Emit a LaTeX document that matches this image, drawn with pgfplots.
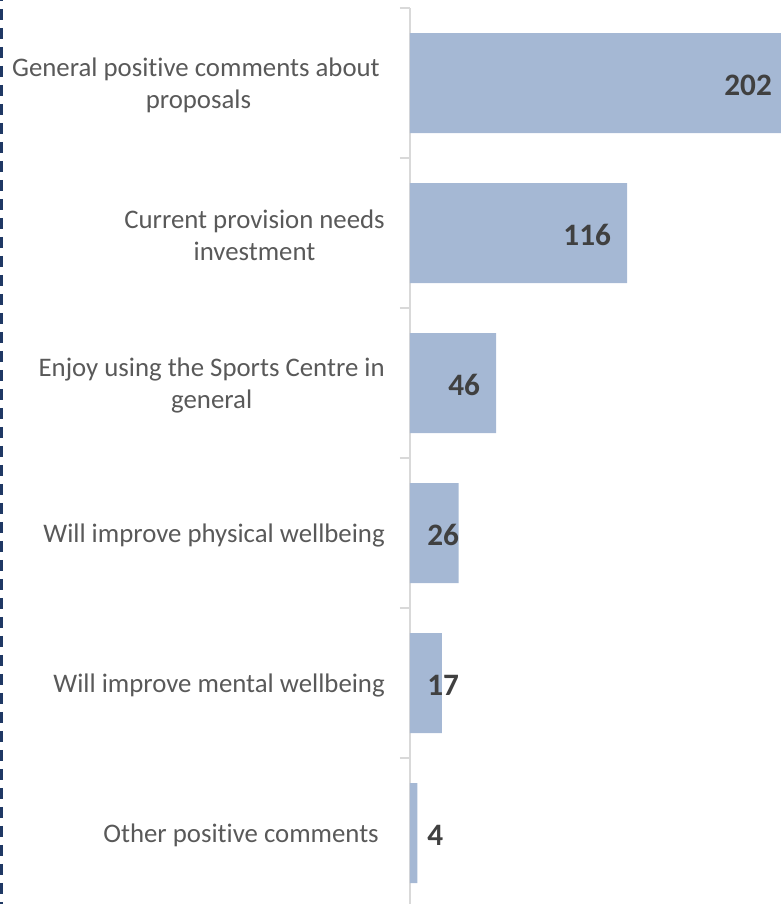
\documentclass[border=0pt]{standalone}
\usepackage{pgfplots}
\pgfplotsset{compat=1.18}
\usepackage{fontspec}
\setmainfont{Carlito}[Ligatures={NoCommon}]
\definecolor{barc}{HTML}{A5B8D4}
\definecolor{lab}{HTML}{595959}
\definecolor{dlab}{HTML}{404040}
\definecolor{axc}{HTML}{D9D9D9}
\definecolor{navy}{HTML}{1F3864}
\begin{document}
\begin{tikzpicture}
\useasboundingbox (0pt,0pt) rectangle (585.75pt,678pt);
\clip (0pt,0pt) rectangle (585.75pt,678pt);
\draw[navy, line width=2.25pt, dash pattern=on 8.25pt off 6pt] (1.125pt,685.5pt) -- (1.125pt,-2pt);
\begin{axis}[
  at={(307.5pt,672pt)}, anchor=north west,
  scale only axis, width=283.5pt, height=675pt,
  xmin=0, xmax=202, ymin=-0.5, ymax=5.5, y dir=reverse,
  clip=false,
  axis x line=none,
  axis y line*=left,
  y axis line style={axc, line width=1.5pt, -},
  ytick={0,1,2,3,4,5},
  yticklabels={{General positive comments about\hspace*{3.75pt}\\proposals},{Current provision needs\\investment},{Enjoy using the Sports Centre in\\general},{Will improve physical wellbeing},{Will improve mental wellbeing},{Other positive comments\hspace*{4.5pt}}},
  major tick length=0pt,
  yticklabel style={align=center, text=lab, font=\fontsize{20.1}{24}\selectfont, inner sep=0pt, xshift=-18.75pt, yshift=-1.5pt},
  extra y ticks={-0.5,0.5,1.5,2.5,3.5,4.5,5.5},
  extra y tick labels={},
  extra tick style={major tick length=7.5pt, tick align=outside, tick style={axc, line width=1.5pt}},
]
\addplot[xbar, bar width=75pt, fill=barc, draw=none] coordinates {(202,0) (116,1) (46,2) (26,3) (17,4) (4,5)};
\node[anchor=east, text=dlab, font=\bfseries\fontsize{23.4}{28}\selectfont, inner sep=0pt, yshift=-1.5pt] at (axis cs:193.5,0) {202};
\node[anchor=east, text=dlab, font=\bfseries\fontsize{23.4}{28}\selectfont, inner sep=0pt, yshift=-1.5pt] at (axis cs:107.5,1) {116};
\node[anchor=east, text=dlab, font=\bfseries\fontsize{23.4}{28}\selectfont, inner sep=0pt, yshift=-1.5pt] at (axis cs:37.5,2) {46};
\node[anchor=west, text=dlab, font=\bfseries\fontsize{23.4}{28}\selectfont, inner sep=0pt, yshift=-1.5pt] at (axis cs:9.1,3) {26};
\node[anchor=west, text=dlab, font=\bfseries\fontsize{23.4}{28}\selectfont, inner sep=0pt, yshift=-1.5pt] at (axis cs:9.1,4) {17};
\node[anchor=west, text=dlab, font=\bfseries\fontsize{23.4}{28}\selectfont, inner sep=0pt, yshift=-1.5pt] at (axis cs:9.1,5) {4};
\end{axis}
\end{tikzpicture}
\end{document}
